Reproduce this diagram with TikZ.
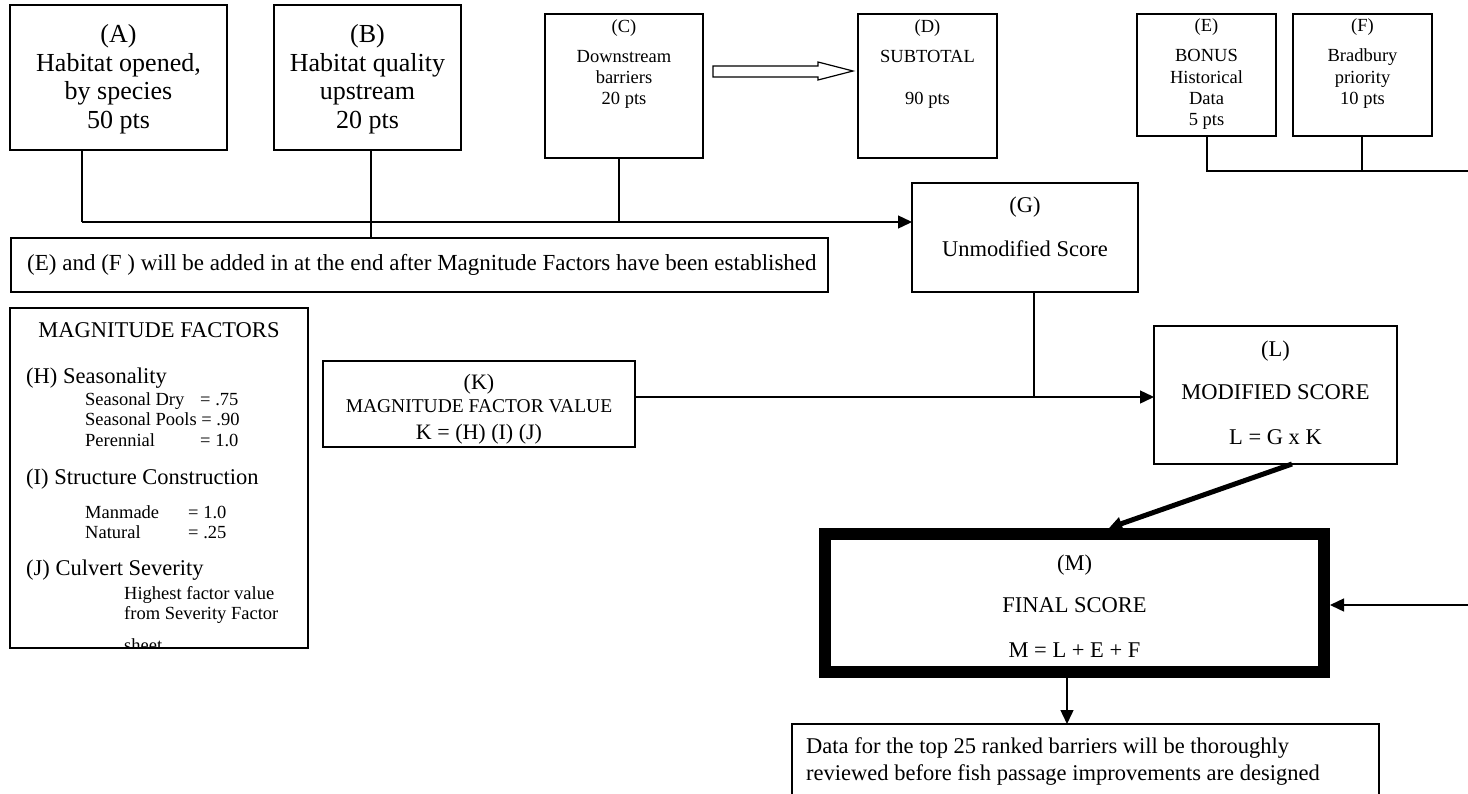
\documentclass[tikz,border=0pt]{standalone}
\usepackage{fontspec}
\setmainfont{Liberation Serif}
\usetikzlibrary{arrows.meta}
\newcommand\fsz[1]{\fontsize{#1}{#1}\selectfont}
\begin{document}
\begin{tikzpicture}[x=1pt,y=-1pt,
  box/.style={draw, line width=1.4pt, inner sep=0pt, outer sep=0pt, anchor=north west},
  tb/.style={anchor=base, inner sep=0pt},
  tw/.style={anchor=base west, inner sep=0pt},
  ln/.style={line width=1.4pt},
  arr/.style={ln, -{Triangle[length=14pt,width=13pt]}}]
\useasboundingbox (0,0) rectangle (1468,793);

% ---------- boxes ----------
\node[box, minimum width=217pt, minimum height=145pt] (A) at (10,5) {};
\node[box, minimum width=187pt, minimum height=145pt] (B) at (274,5) {};
\node[box, minimum width=158pt, minimum height=144pt] (C) at (545,14) {};
\node[box, minimum width=139pt, minimum height=144pt] (D) at (858,14) {};
\node[box, minimum width=139pt, minimum height=122pt] (E) at (1137,14) {};
\node[box, minimum width=139pt, minimum height=122pt] (F) at (1293,14) {};
\node[box, minimum width=226pt, minimum height=109pt] (G) at (912,183) {};
\node[box, minimum width=817pt, minimum height=54pt] (note) at (11,238) {};
\node[box, minimum width=298pt, minimum height=340pt] (mag) at (10,308) {};
\node[box, minimum width=312pt, minimum height=86pt] (K) at (323,361) {};
\node[box, minimum width=243pt, minimum height=138pt] (L) at (1154,326) {};
\node[draw, line width=12pt, outer sep=6pt, inner sep=0pt, minimum width=499pt,
      minimum height=138pt, anchor=north west] (M) at (819,528) {};
\node[box, minimum width=587pt, minimum height=100pt] (bot) at (792,724) {};

% ---------- texts ----------
\node[tb, font=\fsz{26}] at (118.5,42) {(A)};
\node[tb, font=\fsz{26}] at (118.5,71) {Habitat opened,};
\node[tb, font=\fsz{26}] at (118.5,99.5) {by species};
\node[tb, font=\fsz{26}] at (118.5,128) {50 pts};

\node[tb, font=\fsz{26}] at (367.5,42) {(B)};
\node[tb, font=\fsz{26}] at (367.5,71) {Habitat quality};
\node[tb, font=\fsz{26}] at (367.5,99.5) {upstream};
\node[tb, font=\fsz{26}] at (367.5,128) {20 pts};

\node[tb, font=\fsz{18.5}] at (624,32) {(C)};
\node[tb, font=\fsz{18.5}] at (624,62) {Downstream};
\node[tb, font=\fsz{18.5}] at (624,83) {barriers};
\node[tb, font=\fsz{18.5}] at (624,104) {20 pts};

\node[tb, font=\fsz{18.5}] at (927.5,32) {(D)};
\node[tb, font=\fsz{18.5}] at (927.5,62) {SUBTOTAL};
\node[tb, font=\fsz{18.5}] at (927.5,104) {90 pts};

\node[tb, font=\fsz{18.5}] at (1206.5,31) {(E)};
\node[tb, font=\fsz{18.5}] at (1206.5,61) {BONUS};
\node[tb, font=\fsz{18.5}] at (1206.5,83) {Historical};
\node[tb, font=\fsz{18.5}] at (1206.5,104) {Data};
\node[tb, font=\fsz{18.5}] at (1206.5,125) {5 pts};

\node[tb, font=\fsz{18.5}] at (1362.5,31) {(F)};
\node[tb, font=\fsz{18.5}] at (1362.5,61) {Bradbury};
\node[tb, font=\fsz{18.5}] at (1362.5,83) {priority};
\node[tb, font=\fsz{18.5}] at (1362.5,104) {10 pts};

\node[tb, font=\fsz{22.5}] at (1025,212) {(G)};
\node[tb, font=\fsz{22.5}] at (1025,256) {Unmodified Score};

\node[anchor=west, inner sep=0pt, font=\fsz{23}] at (27,265)
  {(E) and (F ) will be added in at the end after Magnitude Factors have been established};

\node[tb, font=\fsz{22.5}] at (159,337) {MAGNITUDE FACTORS};
\node[tw, font=\fsz{22.5}] at (26,383) {(H) Seasonality};
\node[tw, font=\fsz{18.5}] at (85,405) {Seasonal Dry};
\node[tw, font=\fsz{18.5}] at (200,405) {= .75};
\node[tw, font=\fsz{18.5}] at (85,425) {Seasonal Pools = .90};
\node[tw, font=\fsz{18.5}] at (85,446) {Perennial};
\node[tw, font=\fsz{18.5}] at (200,446) {= 1.0};
\node[tw, font=\fsz{22.5}] at (26,484) {(I) Structure Construction};
\node[tw, font=\fsz{18.5}] at (85,518) {Manmade};
\node[tw, font=\fsz{18.5}] at (188,518) {= 1.0};
\node[tw, font=\fsz{18.5}] at (85,538) {Natural};
\node[tw, font=\fsz{18.5}] at (188,538) {= .25};
\node[tw, font=\fsz{22.5}] at (26,575) {(J) Culvert Severity};
\node[tw, font=\fsz{18.5}] at (124,599) {Highest factor value};
\node[tw, font=\fsz{18.5}] at (124,619) {from Severity Factor};
\begin{scope}
  \clip (10,308) rectangle (308,647.3);
  \node[tw, font=\fsz{18.5}] at (124,651) {sheet};
\end{scope}

\node[tb, font=\fsz{22}] at (479,389) {(K)};
\node[tb, font=\fsz{19.5}] at (479,412) {MAGNITUDE FACTOR VALUE};
\node[tb, font=\fsz{22}] at (479,439) {K = (H) (I) (J)};

\node[tb, font=\fsz{22.5}] at (1275.5,356) {(L)};
\node[tb, font=\fsz{22.5}] at (1275.5,399) {MODIFIED SCORE};
\node[tb, font=\fsz{22.5}] at (1275.5,444) {L = G x K};

\node[tb, font=\fsz{22.5}] at (1074.5,570) {(M)};
\node[tb, font=\fsz{22.5}] at (1074.5,612) {FINAL SCORE};
\node[tb, font=\fsz{22.5}] at (1074.5,657) {M = L + E + F};

\node[tw, font=\fsz{22.5}] at (806,753) {Data for the top 25 ranked barriers will be thoroughly};
\node[tw, font=\fsz{22.5}] at (806,780) {reviewed before fish passage improvements are designed};

% ---------- connectors ----------
\coordinate (hA) at (82,222);
\draw[ln] (hA |- A.south) -- (hA);
\draw[arr] (hA) -- (hA -| G.west);
\coordinate (xB) at (371,0);
\draw[ln] (xB |- B.south) -- (xB |- note.north);
\coordinate (xC) at (619,0);
\draw[ln] (xC |- C.south) -- (xC |- hA);

% hollow arrow C -> D
\draw[line width=1.2pt] (713,66) -- (818,66) -- (818,62) -- (853,71) -- (818,80)
  -- (818,77) -- (713,77) -- cycle;

\coordinate (hE) at (1207,171);
\coordinate (rE) at (1468,171);
\draw[ln] (hE |- E.south) -- (hE) -- (rE);
\coordinate (xF) at (1362,0);
\draw[ln] (xF |- F.south) -- (xF |- hE);

\coordinate (jG) at (1034,397);
\draw[ln] (jG |- G.south) -- (jG);
\draw[arr] (K.east |- jG) -- (jG -| L.west);

\draw[line width=5pt, -{Triangle[length=13pt,width=13pt]}]
  ([xshift=16.5pt]L.south) -- ([xshift=34.5pt]M.north);

\coordinate (rM) at (1468,605);
\draw[arr] (rM) -- (rM -| M.east);

\coordinate (xM) at (1067,0);
\draw[arr] (xM |- M.south) -- (xM |- bot.north);
\end{tikzpicture}
\end{document}
